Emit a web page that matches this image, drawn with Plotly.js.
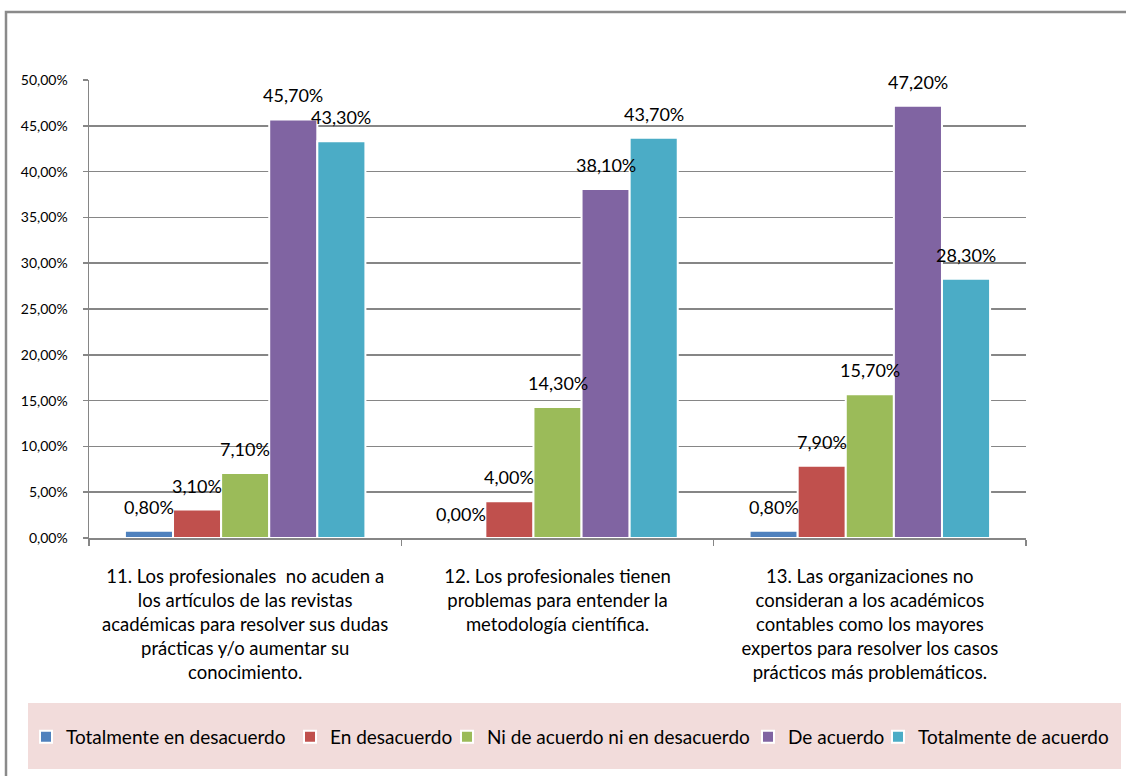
<!DOCTYPE html>
<html>
<head>
<meta charset="utf-8">
<script src="https://cdn.plot.ly/plotly-3.0.1.min.js"></script>
<style>
  html, body { margin: 0; padding: 0; background: #ffffff; }
  #chart { width: 1126px; height: 776px; }
</style>
</head>
<body>
<div id="chart"></div>
<script>
// Survey statements (x-axis categories)
const categories = [
  "11. Los profesionales  no acuden a<br>los artículos de las revistas<br>académicas para resolver sus dudas<br>prácticas y/o aumentar su<br>conocimiento.",
  "12. Los profesionales tienen<br>problemas para entender la<br>metodología científica.",
  "13. Las organizaciones no<br>consideran a los académicos<br>contables como los mayores<br>expertos para resolver los casos<br>prácticos más problemáticos."
];

// Answer options (legend order)
const seriesNames = [
  "Totalmente en desacuerdo",
  "En desacuerdo",
  "Ni de acuerdo ni en desacuerdo",
  "De acuerdo",
  "Totalmente de acuerdo"
];

// Percentages per answer option, one value per statement
const totalmenteDesacuerdo = [0.8, 0.0, 0.8];
const enDesacuerdo = [3.1, 4.0, 7.9];
const niAcuerdoNiDesacuerdo = [7.1, 14.3, 15.7];
const deAcuerdo = [45.7, 38.1, 47.2];
const totalmenteAcuerdo = [43.3, 43.7, 28.3];

const seriesValues = [totalmenteDesacuerdo, enDesacuerdo, niAcuerdoNiDesacuerdo, deAcuerdo, totalmenteAcuerdo];
const seriesColors = ["#4f81bd", "#c0504d", "#9bbb59", "#8064a2", "#4bacc6"];

const FONT = "Lato, 'Open Sans', sans-serif";
const BARGAP = 0.23;

const fmt = v => v.toFixed(2).replace(".", ",") + "%";

// Pixel geometry of the plot area
const W = 1126, H = 776;
const L = 89, R = 1026, T = 80, B = 538;
const px = x => (x - L) / (R - L);
const py = y => (B - y) / (B - T);

// Each legend entry gets its own legend box so the row keeps its spacing
const legendIds = ["legend", "legend2", "legend3", "legend4", "legend5"];
const legendLeft = [26, 290, 447, 748, 878];

const traces = seriesNames.map((name, i) => ({
  type: "bar",
  name: name,
  x: categories,
  y: seriesValues[i],
  legend: legendIds[i],
  marker: { color: seriesColors[i], line: { color: "#ffffff", width: 2 } },
  hoverinfo: "name+y"
}));

// Value labels placed above each bar of the grouped layout
const nSeries = seriesNames.length;
const barSlot = (1 - BARGAP) / nSeries;
const annotations = [];
seriesValues.forEach((vals, i) => {
  vals.forEach((v, c) => {
    annotations.push({
      x: c + (i - (nSeries - 1) / 2) * barSlot,
      y: v,
      xref: "x",
      yref: "y",
      text: fmt(v),
      showarrow: false,
      xanchor: "center",
      yanchor: "middle",
      yshift: 24,
      font: { family: FONT, size: 18, color: "#000000" }
    });
  });
});

const shapes = [
  // legend panel
  {
    type: "rect", xref: "paper", yref: "paper", layer: "below",
    x0: px(28), x1: px(1121), y0: py(769), y1: py(703),
    fillcolor: "#f2dcdb", line: { width: 0 }
  },
  // outer chart frame
  {
    type: "path", xref: "paper", yref: "paper", layer: "below",
    path: `M ${px(6)} ${py(790)} L ${px(6)} ${py(12)} L ${px(1140)} ${py(12)}`,
    line: { color: "#8a8a8a", width: 2.5 }
  }
];

const layout = {
  width: W,
  height: H,
  margin: { l: L, r: W - R, t: T, b: H - B },
  paper_bgcolor: "#ffffff",
  plot_bgcolor: "#ffffff",
  barmode: "group",
  bargap: BARGAP,
  bargroupgap: 0,
  separators: ",.",
  font: { family: FONT, color: "#000000" },
  showlegend: true,
  xaxis: {
    type: "category",
    tickson: "boundaries",
    ticks: "outside",
    ticklen: 6,
    tickcolor: "#868686",
    tickwidth: 1.5,
    showline: true,
    linecolor: "#868686",
    linewidth: 1.5,
    showgrid: false,
    ticklabelstandoff: 21,
    tickfont: { family: FONT, size: 18.5, color: "#000000" },
    fixedrange: true
  },
  yaxis: {
    range: [0, 50],
    dtick: 5,
    tick0: 0,
    tickformat: ".2f",
    ticksuffix: "%",
    ticks: "outside",
    ticklen: 5,
    tickcolor: "#868686",
    tickwidth: 1.5,
    showline: true,
    linecolor: "#868686",
    linewidth: 1.5,
    showgrid: true,
    gridcolor: "#868686",
    gridwidth: 1.5,
    zeroline: false,
    ticklabelstandoff: 12,
    tickfont: { family: FONT, size: 14, color: "#000000" },
    fixedrange: true
  },
  annotations: annotations,
  shapes: shapes
};

legendIds.forEach((id, i) => {
  layout[id] = {
    orientation: "h",
    x: px(legendLeft[i]),
    xanchor: "left",
    y: py(737),
    yanchor: "middle",
    bgcolor: "rgba(0,0,0,0)",
    borderwidth: 0,
    font: { family: FONT, size: 19, color: "#000000" },
    itemclick: false
  };
});

Plotly.newPlot("chart", traces, layout, { displayModeBar: false, staticPlot: true });
</script>
</body>
</html>
